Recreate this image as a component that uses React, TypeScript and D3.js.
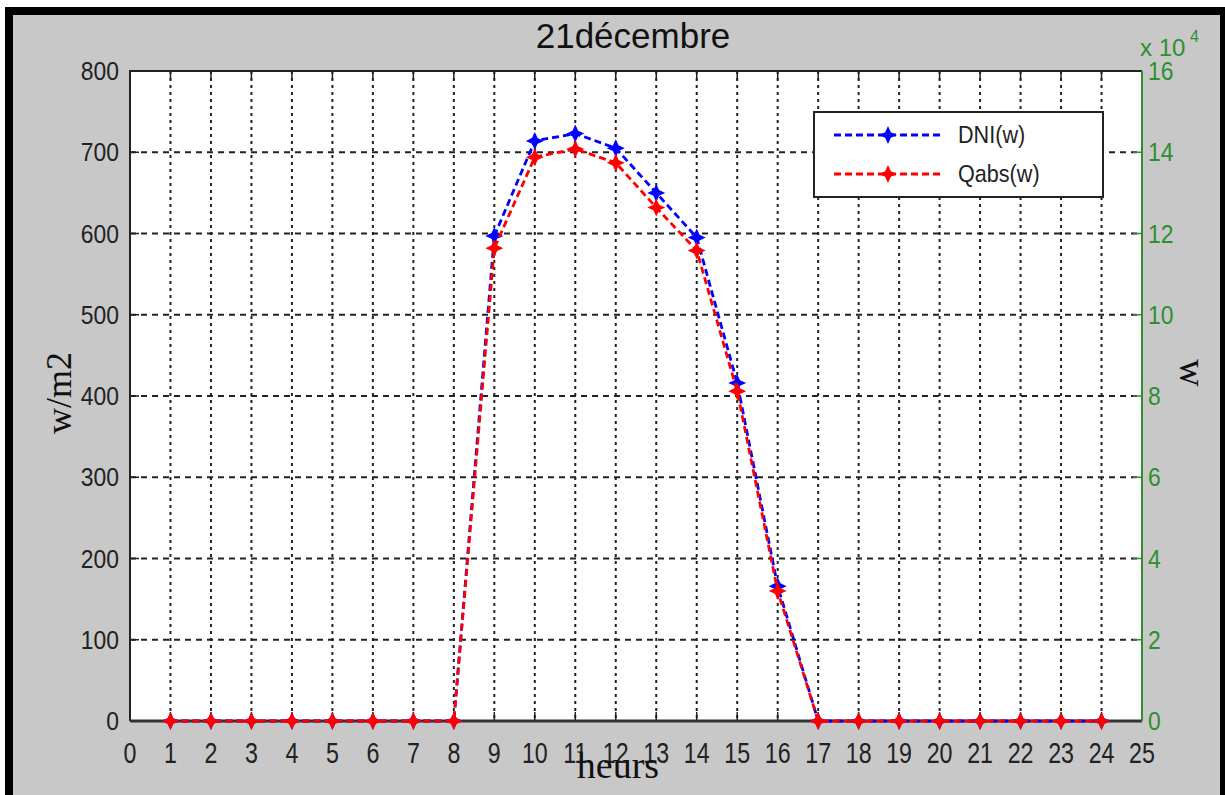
import React from 'react';
import * as d3 from 'd3';

// hours of the day and the two series (w/m2)
const hours = [1, 2, 3, 4, 5, 6, 7, 8, 9, 10, 11, 12, 13, 14, 15, 16, 17, 18, 19, 20, 21, 22, 23, 24];
const dni = [0, 0, 0, 0, 0, 0, 0, 0, 597, 714, 723, 705, 650, 595, 416, 166, 0, 0, 0, 0, 0, 0, 0, 0];
const qabs = [0, 0, 0, 0, 0, 0, 0, 0, 582, 694, 704, 687, 632, 579, 406, 160, 0, 0, 0, 0, 0, 0, 0, 0];
const xTicks = d3.range(0, 26);
const yTicks = [0, 100, 200, 300, 400, 500, 600, 700, 800];
const y2Ticks = [0, 2, 4, 6, 8, 10, 12, 14, 16];
const seriesNames = ['DNI(w)', 'Qabs(w)'];
const seriesColors = ['#0000ff', '#ff0000'];

const W = 1225;
const H = 795;
const plot = { left: 130, right: 1142, top: 71, bottom: 721 };
const green = '#2f8f2f';
const sans = '"Liberation Sans", Arial, sans-serif';
const serif = '"Liberation Serif", "Times New Roman", serif';

// 4 point star marker
const star = (r: number, ir: number) => {
  const pts: [number, number][] = [];
  for (let i = 0; i < 8; i++) {
    const a = (Math.PI / 4) * i - Math.PI / 2;
    const rr = i % 2 === 0 ? r : ir;
    pts.push([Math.cos(a) * rr, Math.sin(a) * rr]);
  }
  return 'M' + pts.map(p => p.join(',')).join('L') + 'Z';
};

const App = () => {
  const x = d3.scaleLinear().domain([0, 25]).range([plot.left, plot.right]);
  const y = d3.scaleLinear().domain([0, 800]).range([plot.bottom, plot.top]);
  const y2 = d3.scaleLinear().domain([0, 16]).range([plot.bottom, plot.top]);

  const line = d3.line<number>()
    .x((d, i) => x(hours[i]))
    .y(d => y(d));

  const series = [dni, qabs];
  const markerPath = star(9, 4);

  return (
    <svg width={W} height={H} style={{ display: 'block', position: 'absolute', left: 0, top: 0 }}>
      <rect x={0} y={0} width={W} height={H} fill="#fff" />
      <rect x={5} y={7} width={W - 5} height={H - 7} fill="#000" />
      <rect x={13} y={15} width={1207} height={H - 15} fill="#c8c8c8" />

      {/* plot area */}
      <rect x={plot.left} y={plot.top} width={plot.right - plot.left} height={plot.bottom - plot.top} fill="#fff" />

      {/* grid */}
      {xTicks.slice(1, -1).map(t => (
        <line key={'gx' + t} x1={x(t)} x2={x(t)} y1={plot.top} y2={plot.bottom}
          stroke="#222" strokeWidth={2} strokeDasharray="3,4" />
      ))}
      {yTicks.slice(1, -1).map(t => (
        <line key={'gy' + t} x1={plot.left} x2={plot.right} y1={y(t)} y2={y(t)}
          stroke="#222" strokeWidth={2} strokeDasharray="6,5" />
      ))}

      {/* ticks */}
      {xTicks.map(t => (
        <g key={'tx' + t}>
          <line x1={x(t)} x2={x(t)} y1={plot.bottom} y2={plot.bottom - 9} stroke="#222" strokeWidth={1.5} />
          <line x1={x(t)} x2={x(t)} y1={plot.top} y2={plot.top + 9} stroke="#222" strokeWidth={1.5} />
          <text transform={`translate(${x(t)},763) scale(0.8,1)`} textAnchor="middle"
            fontFamily={sans} fontSize={29} fill="#222">{t}</text>
        </g>
      ))}
      {yTicks.map(t => (
        <g key={'ty' + t}>
          <line x1={plot.left} x2={plot.left + 9} y1={y(t)} y2={y(t)} stroke="#222" strokeWidth={1.5} />
          <text transform={`translate(119,${y(t) + 9}) scale(0.88,1)`} textAnchor="end"
            fontFamily={sans} fontSize={26} fill="#222">{t}</text>
        </g>
      ))}
      {y2Ticks.map(t => (
        <g key={'ty2' + t}>
          <line x1={plot.right} x2={plot.right - 9} y1={y2(t)} y2={y2(t)} stroke={green} strokeWidth={1.5} />
          <text transform={`translate(1148,${y2(t) + 9}) scale(0.88,1)`} textAnchor="start"
            fontFamily={sans} fontSize={26} fill={green}>{t}</text>
        </g>
      ))}

      {/* axes frame */}
      <path d={`M${plot.left},${plot.bottom}V${plot.top}H${plot.right}`} fill="none" stroke="#222" strokeWidth={2} />
      <line x1={plot.left} x2={plot.right} y1={plot.bottom} y2={plot.bottom} stroke="#333" strokeWidth={3} />
      <line x1={plot.right} x2={plot.right} y1={plot.top} y2={plot.bottom} stroke={green} strokeWidth={2} />

      {/* series */}
      {series.map((s, k) => (
        <g key={'s' + k}>
          <path d={line(s) || ''} fill="none" stroke={seriesColors[k]} strokeWidth={2.8} strokeDasharray="7,4" />
          {s.map((v, i) => (
            <path key={i} d={markerPath} transform={`translate(${x(hours[i])},${y(v)})`} fill={seriesColors[k]} />
          ))}
        </g>
      ))}

      {/* legend */}
      <rect x={814} y={112} width={289} height={85} fill="#fff" stroke="#222" strokeWidth={2} />
      {seriesNames.map((n, k) => {
        const ly = 135 + k * 39;
        return (
          <g key={'l' + k}>
            <line x1={834} x2={944} y1={ly} y2={ly} stroke={seriesColors[k]} strokeWidth={2.8} strokeDasharray="7,4" />
            <path d={markerPath} transform={`translate(888,${ly})`} fill={seriesColors[k]} />
            <text transform={`translate(958,${ly + 8}) scale(0.9,1)`} fontFamily={sans} fontSize={24} fill="#222">{n}</text>
          </g>
        );
      })}

      {/* titles */}
      <text x={633} y={48} textAnchor="middle" fontFamily={sans} fontSize={35} fill="#111">21décembre</text>
      <text x={618} y={778} textAnchor="middle" fontFamily={serif} fontSize={38} fill="#111">heurs</text>
      <text transform="translate(71,393) rotate(-90)" textAnchor="middle" fontFamily={serif} fontSize={36} fill="#111">w/m2</text>
      <text transform="translate(1180,373) rotate(90)" textAnchor="middle" fontFamily={serif} fontSize={38} fill="#111">w</text>
      <text x={1140} y={56} fontFamily={sans} fontSize={24} fill={green}>x 10</text>
      <text x={1190} y={42} fontFamily={sans} fontSize={16} fill={green}>4</text>
    </svg>
  );
};

export default App;
